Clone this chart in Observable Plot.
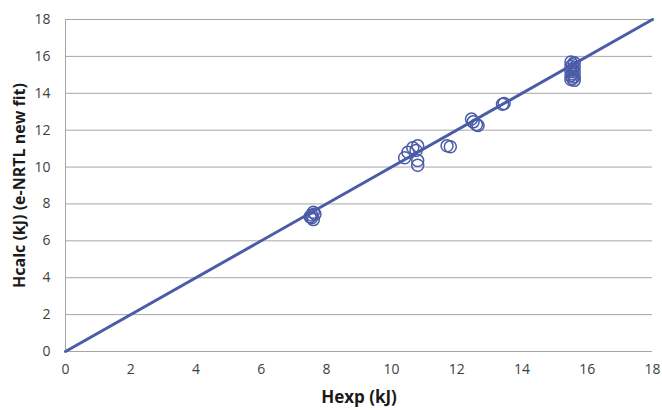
<!DOCTYPE html>
<html><head><meta charset="utf-8">
<script src="https://cdn.jsdelivr.net/npm/d3@7"></script>
<script src="https://cdn.jsdelivr.net/npm/@observablehq/plot@0.6"></script>
<style>body{margin:0;background:#fff;font-family:"Open Sans",sans-serif}</style>
</head><body><div id="chart"></div>
<script>
const hexp = [7.5,7.55,7.6,7.6,7.55,7.65, 10.4,10.5,10.65,10.8,10.8,10.8,10.75,11.7,11.8, 12.45,12.5,12.6,12.65,13.4,13.45,
  15.5,15.6,15.55,15.5,15.6,15.55,15.5,15.6,15.55,15.5,15.6,15.55,15.5,15.6];
const hcalc = [7.3,7.4,7.55,7.15,7.25,7.45, 10.5,10.8,11.05,11.15,10.35,10.1,10.9,11.15,11.1, 12.6,12.45,12.3,12.25,13.4,13.45,
  15.7,15.65,15.55,15.45,15.4,15.3,15.2,15.15,15.05,14.95,14.9,14.8,14.75,14.7];
const parityX = [0,18];
const parityY = [0,18];
const yTicks = [0,2,4,6,8,10,12,14,16,18];
const xTicks = [0,2,4,6,8,10,12,14,16,18];

const pts = hexp.map((x,i)=>({x, y:hcalc[i]}));
const line = parityX.map((x,i)=>({x, y:parityY[i]}));
const blue = "#4a5ca8";

const chart = Plot.plot({
  width: 662, height: 410,
  marginLeft: 65, marginRight: 10, marginTop: 19, marginBottom: 59,
  style: {fontFamily: "'Open Sans', sans-serif", fontSize: "14px", color: "#404040"},
  x: {domain: [0,18], ticks: xTicks, tickSize: 0, tickPadding: 14, label: null},
  y: {domain: [0,18], ticks: yTicks, tickSize: 0, tickPadding: 15, label: null},
  marks: [
    Plot.ruleY(yTicks, {stroke: "#a6a6a6", strokeWidth: 1}),
    Plot.ruleX([0], {stroke: "#a6a6a6", strokeWidth: 1}),
    Plot.line(line, {x: "x", y: "y", stroke: blue, strokeWidth: 3}),
    Plot.dot(pts, {x: "x", y: "y", r: 6, stroke: blue, strokeWidth: 1.5, fill: "none"}),
    Plot.axisX({ticks: xTicks, tickSize: 0, tickPadding: 13, label: null, fontSize: 14}),
    Plot.axisY({ticks: yTicks, tickSize: 0, tickPadding: 15, label: null, fontSize: 14}),
    Plot.text(["Hexp (kJ)"], {frameAnchor: "bottom", textAnchor: "middle", dy: 51, fontWeight: "bold", fontSize: 17, fill: "#1a1a1a"}),
    Plot.text(["Hcalc (kJ) (e-NRTL new fit)"], {frameAnchor: "left", textAnchor: "middle", dx: -46, dy: 0, rotate: -90, fontWeight: "bold", fontSize: 16, fill: "#1a1a1a"})
  ]
});
document.getElementById("chart").appendChild(chart);
</script></body></html>
